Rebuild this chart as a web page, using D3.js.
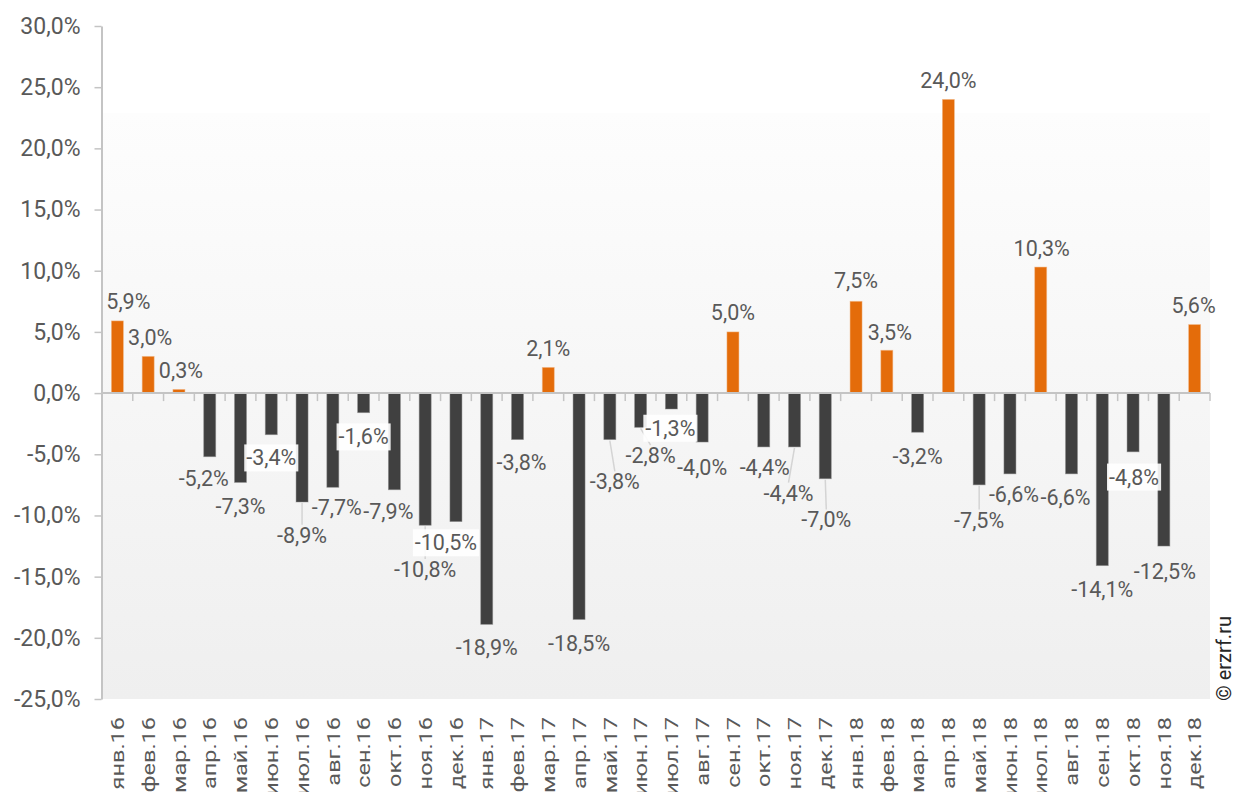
<!DOCTYPE html>
<html lang="ru">
<head>
<meta charset="utf-8">
<script src="https://cdn.jsdelivr.net/npm/d3@7/dist/d3.min.js"></script>
<style>
  html, body { margin: 0; padding: 0; background: #ffffff; }
  svg { display: block; font-family: Roboto, "Noto Sans", sans-serif; }
</style>
</head>
<body>
<svg id="chart" width="1236" height="792"></svg>
<script>
// Monthly change, %, Jan 2016 – Dec 2018
const months = [
  "янв.16","фев.16","мар.16","апр.16","май.16","июн.16","июл.16","авг.16","сен.16","окт.16","ноя.16","дек.16",
  "янв.17","фев.17","мар.17","апр.17","май.17","июн.17","июл.17","авг.17","сен.17","окт.17","ноя.17","дек.17",
  "янв.18","фев.18","мар.18","апр.18","май.18","июн.18","июл.18","авг.18","сен.18","окт.18","ноя.18","дек.18"
];
const growth = [
  5.9, 3.0, 0.3, -5.2, -7.3, -3.4, -8.9, -7.7, -1.6, -7.9, -10.8, -10.5,
  -18.9, -3.8, 2.1, -18.5, -3.8, -2.8, -1.3, -4.0, 5.0, -4.4, -4.4, -7.0,
  7.5, 3.5, -3.2, 24.0, -7.5, -6.6, 10.3, -6.6, -14.1, -4.8, -12.5, 5.6
];
const yTicks = [-25, -20, -15, -10, -5, 0, 5, 10, 15, 20, 25, 30];

// Label placement relative to the bar end (px), so crowded labels don't collide
const labelShift = [
  [11,-20],[2,-19],[2,-19],[-6,22],[0,24],[0,23],[0,33],[4,20],[0,24],[-6,22],[0,44],[-10,21],
  [0,23],[4,23],[0,-19],[0,24],[5,42],[10,28],[-1,19],[0,25],[0,-20],[1,20],[-6,46],[1,41],
  [0,-21],[3,-18],[0,24],[0,-19],[0,35],[4,20],[1,-19],[-6,23],[0,24],[1,25],[1,25],[-1,-19]
];
const boxedLabels = [5, 8, 11, 18, 33];
const leaderLabels = [6, 10, 16, 17, 22, 23, 28];

const ORANGE = "#e46c0a", DARK = "#404040", TEXT = "#595959", AXIS = "#c4c4c4";
const fmt = v => v.toFixed(1).replace(".", ",") + "%";

const svg = d3.select("#chart");
const left = 102, right = 1210;

const x = d3.scaleBand().domain(months).range([left, right]).padding(0);
const y = d3.scaleLinear().domain([-25, 30]).range([699, 26]);
const barW = x.bandwidth() * 0.39;

// plot background gradient
const defs = svg.append("defs");
const grad = defs.append("linearGradient").attr("id", "plotBg")
  .attr("x1", 0).attr("y1", 0).attr("x2", 0).attr("y2", 1);
grad.append("stop").attr("offset", "0%").attr("stop-color", "#fdfdfd");
grad.append("stop").attr("offset", "100%").attr("stop-color", "#efefef");
svg.append("rect")
  .attr("x", left).attr("y", 113)
  .attr("width", right - left).attr("height", y(-25) - 113)
  .attr("fill", "url(#plotBg)");

// y axis
const yAxis = svg.append("g")
  .attr("transform", `translate(${left - 0.5},0)`)
  .call(d3.axisLeft(y).tickValues(yTicks).tickSize(7).tickSizeOuter(0).tickPadding(14).tickFormat(fmt));
yAxis.select(".domain").attr("stroke", AXIS).attr("stroke-width", 2);
yAxis.selectAll(".tick line").attr("stroke", AXIS).attr("stroke-width", 1.5);
yAxis.selectAll(".tick text")
  .attr("fill", TEXT).attr("font-size", 23).attr("font-family", "Roboto");

// bars
svg.append("g").selectAll("rect")
  .data(growth)
  .join("rect")
  .attr("x", (d, i) => x(months[i]) + (x.bandwidth() - barW) / 2)
  .attr("width", barW)
  .attr("y", d => y(Math.max(0, d)))
  .attr("height", d => Math.abs(y(d) - y(0)))
  .attr("fill", d => d >= 0 ? ORANGE : DARK)
  .attr("stroke", d => d >= 0 ? "#f2b98a" : "#8a8a8a")
  .attr("stroke-opacity", 0.6)
  .attr("stroke-width", 0.8);

// zero line with category boundary ticks
const zeroY = y(0);
svg.append("line")
  .attr("x1", left).attr("x2", right)
  .attr("y1", zeroY).attr("y2", zeroY)
  .attr("stroke", AXIS).attr("stroke-width", 2);
svg.append("g").selectAll("line")
  .data(months)
  .join("line")
  .attr("x1", d => x(d) + x.bandwidth()).attr("x2", d => x(d) + x.bandwidth())
  .attr("y1", zeroY).attr("y2", zeroY + 8)
  .attr("stroke", AXIS).attr("stroke-width", 1.5);

// category labels at the bottom (tall, narrow lettering)
const xAxis = svg.append("g")
  .attr("transform", "translate(0,712)")
  .call(d3.axisBottom(x).tickSize(0));
xAxis.select(".domain").remove();
xAxis.selectAll(".tick text")
  .attr("transform", "rotate(-90) scale(1,0.8)")
  .attr("text-anchor", "end")
  .attr("x", -5).attr("y", 0).attr("dy", "0.36em")
  .attr("fill", TEXT).attr("font-size", 23.5).attr("font-family", "Roboto");

// data labels
const labels = svg.append("g");
growth.forEach((v, i) => {
  const cx = x(months[i]) + x.bandwidth() / 2;
  const ey = y(v);
  const lx = cx + labelShift[i][0];
  const ly = ey + labelShift[i][1];
  const g = labels.append("g");
  const t = g.append("text")
    .attr("x", lx).attr("y", ly).attr("dy", "0.36em")
    .attr("text-anchor", "middle")
    .attr("fill", TEXT).attr("font-size", 21.5).attr("font-family", "Roboto")
    .text(fmt(v));
  const bb = t.node().getBBox();
  if (boxedLabels.includes(i)) {
    g.insert("rect", "text")
      .attr("x", bb.x - 2).attr("y", bb.y - 1)
      .attr("width", bb.width + 4).attr("height", bb.height + 2)
      .attr("fill", "#ffffff").attr("fill-opacity", 0.9);
  }
  if (leaderLabels.includes(i)) {
    g.insert("line", "text")
      .attr("x1", cx).attr("y1", ey + 1)
      .attr("x2", lx).attr("y2", bb.y + 2)
      .attr("stroke", "#d4d4d4").attr("stroke-width", 1.5);
  }
});

// source mark
svg.append("text")
  .attr("transform", "translate(1231,701) rotate(-90)")
  .attr("text-anchor", "start")
  .attr("fill", "#262626").attr("font-size", 20).attr("font-family", "Roboto")
  .text("© erzrf.ru");
</script>
</body>
</html>
